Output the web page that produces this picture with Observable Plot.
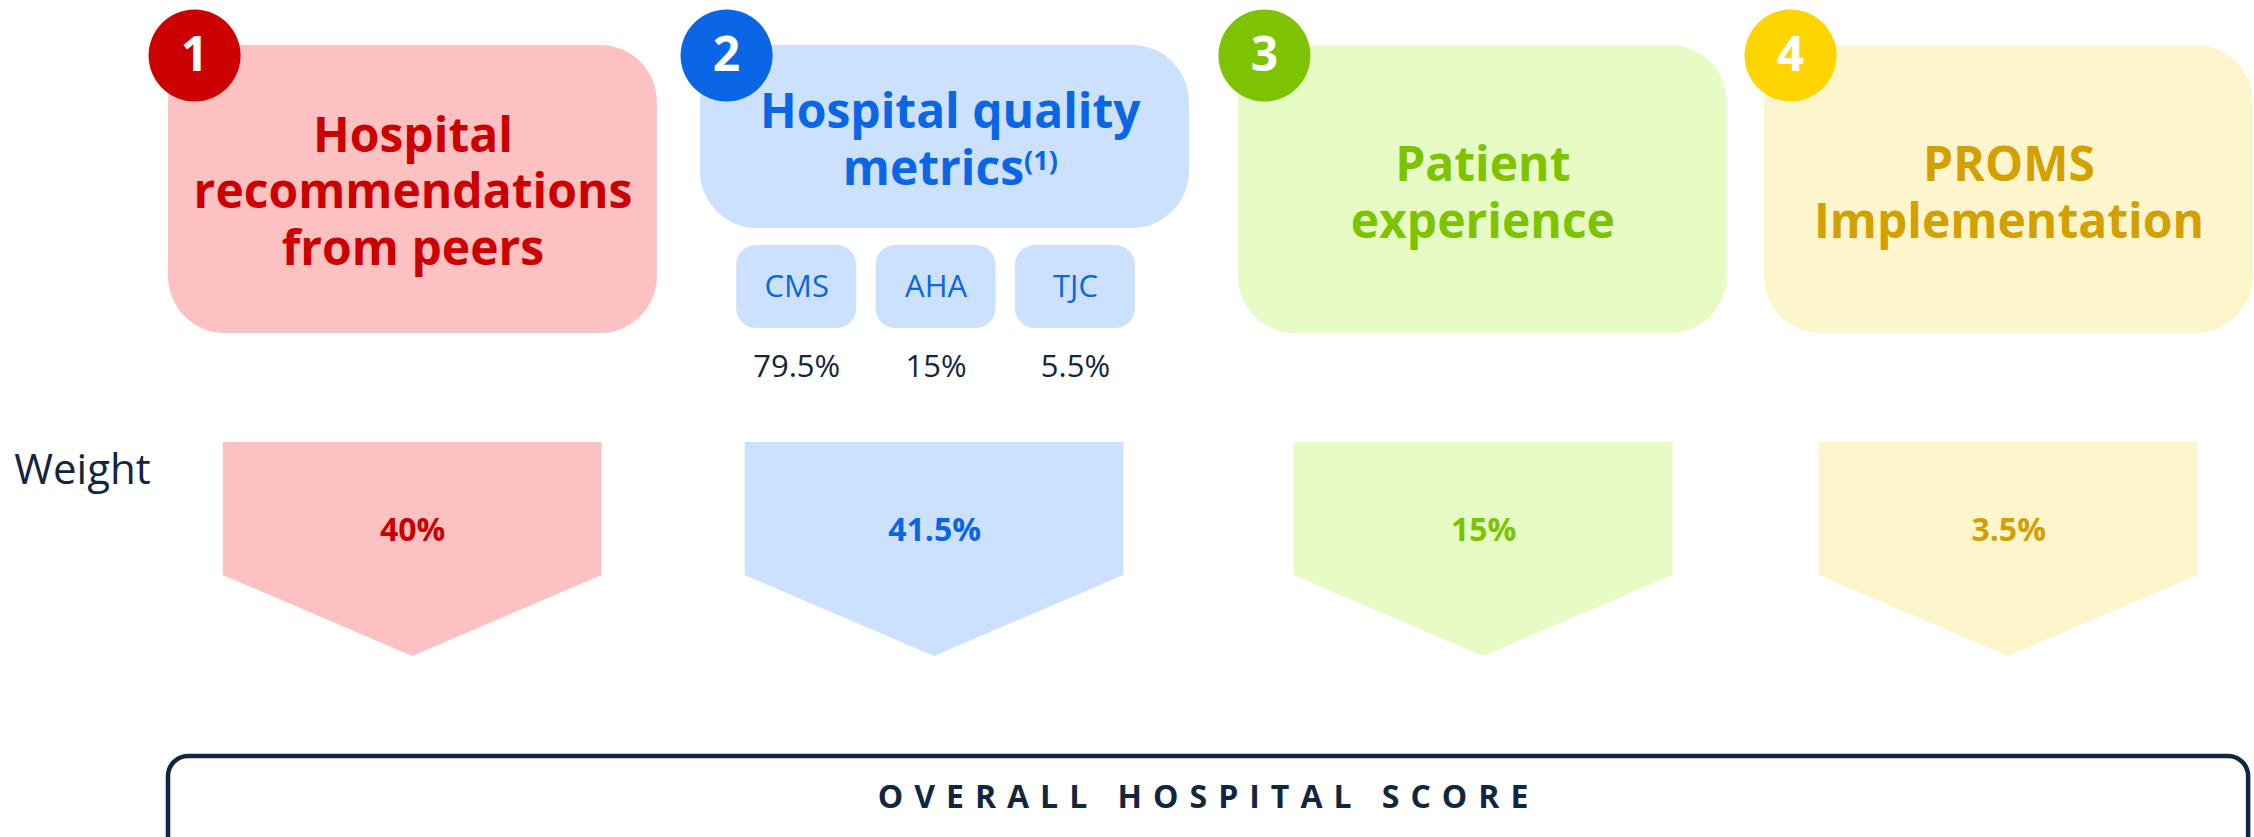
<!DOCTYPE html>
<html><head><meta charset="utf-8">
<script src="https://cdn.jsdelivr.net/npm/d3@7"></script>
<script src="https://cdn.jsdelivr.net/npm/@observablehq/plot@0.6"></script>
<style>html,body{margin:0;padding:0;background:#fff;overflow:hidden;} #chart svg{display:block;}</style>
</head><body><div id="chart"></div><script>
// ---- data ----
const pillars = ["Hospital recommendations from peers", "Hospital quality metrics", "Patient experience", "PROMS Implementation"];
const pillarTitles = ["Hospital\nrecommendations\nfrom peers", "Hospital quality\nmetrics", "Patient\nexperience", "PROMS\nImplementation"];
const pillarNumbers = ["1", "2", "3", "4"];
const weights = [40, 41.5, 15, 3.5];
const subMetrics = ["CMS", "AHA", "TJC"];
const subWeights = [79.5, 15, 5.5];
const rowLabel = "Weight";
const totalLabel = "OVERALL HOSPITAL SCORE";

// ---- styles ----
const strong = ["#cc0000", "#0a66e4", "#7dc300", "#ffd500"];
const textCol = ["#cc0000", "#0a66e4", "#7dc300", "#d4a000"];
const light = ["#fdc1c1", "#cce1fd", "#e7fbc5", "#fdf6cd"];
const navy = "#13263f";

// ---- layout (column units on x, pixel rows on y) ----
const COL = {boxW: 0.919, circX: 0.049, arrowL: 0.103, arrowMid: 0.459, arrowR: 0.815, subL: 0.068, subW: 0.2256, subStep: 0.262, labelX: -0.29, totalR: 3.91,
  boxShift: [0, 0, 0.011, 0], arrowShift: [0, -0.019, 0.013, 0]};
const ROW = {boxTop: 45, boxBot: 333, box2Bot: 228, circY: 55, subTop: 245, subBot: 328, subText: 287, subPct: 367,
  arrowTop: 442, arrowShoulder: 575, arrowTip: 656, weightText: 530, weightLabel: 470,
  totalTop: 756, totalBot: 900, totalText: 797, titleY: [190, 138, 191, 191]};

const idx = pillars.map((_, i) => i);
const bx = i => i + COL.boxShift[i];
const ax = i => i + COL.arrowShift[i];
const arrowPts = idx.flatMap(i => [
  {k: i, x: ax(i) + COL.arrowL, top: ROW.arrowTop, bot: ROW.arrowShoulder},
  {k: i, x: ax(i) + COL.arrowMid, top: ROW.arrowTop, bot: ROW.arrowTip},
  {k: i, x: ax(i) + COL.arrowR, top: ROW.arrowTop, bot: ROW.arrowShoulder}
]);
const subIdx = subMetrics.map((_, j) => j);

const plot = Plot.plot({
  width: 2254, height: 837, margin: 0,
  x: {type: "linear", domain: [0, 4], range: [168, 168 + 4 * 532], axis: null},
  y: {type: "linear", domain: [0, 837], range: [0, 837], axis: null},
  style: {fontFamily: "'Open Sans', 'Noto Sans', sans-serif", background: "white"},
  marks: [
    // pillar boxes
    Plot.rect(idx, {x1: i => bx(i), x2: i => bx(i) + COL.boxW, y1: ROW.boxTop, y2: i => i === 1 ? ROW.box2Bot : ROW.boxBot,
      rx: 57, fill: i => light[i]}),
    // number circles
    Plot.dot(idx, {x: i => bx(i) + COL.circX, y: ROW.circY, r: 46, fill: i => strong[i], stroke: null}),
    Plot.text(idx, {x: i => bx(i) + COL.circX, y: ROW.circY, text: i => pillarNumbers[i], fill: "white", fontSize: 48, fontWeight: 700}),
    // titles
    Plot.text(idx, {x: i => bx(i) + COL.boxW / 2 + (i === 1 ? 0.01 : 0), y: i => ROW.titleY[i], text: i => pillarTitles[i],
      fill: i => textCol[i], fontSize: 48, fontWeight: 700, lineHeight: 1.17}),
    // sub metrics
    Plot.rect(subIdx, {x1: j => bx(1) + COL.subL + j * COL.subStep, x2: j => bx(1) + COL.subL + j * COL.subStep + COL.subW,
      y1: ROW.subTop, y2: ROW.subBot, rx: 20, fill: light[1]}),
    Plot.text(subIdx, {x: j => bx(1) + COL.subL + j * COL.subStep + COL.subW / 2, y: ROW.subText, text: j => subMetrics[j],
      fill: textCol[1], fontSize: 31}),
    Plot.text(subIdx, {x: j => bx(1) + COL.subL + j * COL.subStep + COL.subW / 2, y: ROW.subPct, text: j => `${subWeights[j]}%`,
      fill: navy, fontSize: 31}),
    // weight arrows
    Plot.area(arrowPts, {x1: "x", y1: "top", y2: "bot", z: "k", fill: d => light[d.k]}),
    Plot.text(idx, {x: i => ax(i) + COL.arrowMid, y: ROW.weightText, text: i => `${weights[i]}%`,
      fill: i => textCol[i], fontSize: 32, fontWeight: 700}),
    Plot.text([rowLabel], {x: COL.labelX, y: ROW.weightLabel, text: d => d, textAnchor: "start", fill: navy, fontSize: 42}),
    // overall score
    Plot.rect([totalLabel], {x1: 0, x2: COL.totalR, y1: ROW.totalTop, y2: ROW.totalBot, rx: 20, fill: "none", stroke: navy, strokeWidth: 4.5}),
    Plot.text([totalLabel], {x: COL.totalR / 2, y: ROW.totalText, text: d => d, fill: navy, fontSize: 32, fontWeight: 700})
  ]
});

const s = d3.select(plot);
s.selectAll("tspan").filter(function () { return this.textContent === "metrics"; })
  .append("tspan").attr("dy", -15).attr("font-size", 27).text("(1)");
s.selectAll("text").filter(function () { return this.textContent === totalLabel; })
  .attr("letter-spacing", 11);
document.getElementById("chart").appendChild(plot);
</script></body></html>
